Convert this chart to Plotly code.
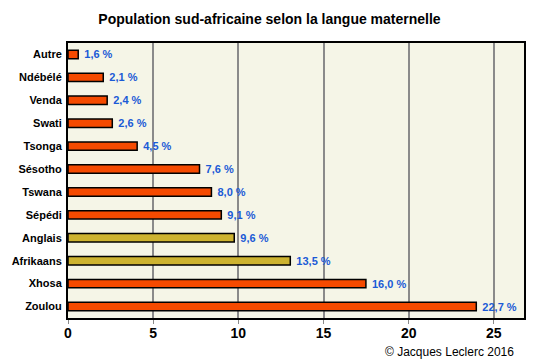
import plotly.graph_objects as go

languages = ["Autre", "Ndébélé", "Venda", "Swati", "Tsonga", "Sésotho", "Tswana",
             "Sépédi", "Anglais", "Afrikaans", "Xhosa", "Zoulou"]
bar_lengths = [0.6, 2.07, 2.3, 2.6, 4.06, 7.72, 8.42, 9.0, 9.76, 13.05, 17.49, 23.97]
value_labels = ["1,6 %", "2,1 %", "2,4 %", "2,6 %", "4,5 %", "7,6 %", "8,0 %",
                "9,1 %", "9,6 %", "13,5 %", "16,0 %", "22,7 %"]
groups = ["african"] * 8 + ["european"] * 2 + ["african"] * 2
x_ticks = [0, 5, 10, 15, 20, 25]

color_map = {"african": "#f54a00", "european": "#cdb330"}
colors = [color_map[g] for g in groups]

FONT = "Liberation Sans, Arial, sans-serif"

L, R, T, B = 68, 15, 43, 45
W, H = 539, 363
plot_h = H - T - B
plot_w = W - L - R

fig = go.Figure(go.Bar(
    x=bar_lengths, y=languages, orientation="h",
    marker=dict(color=colors, line=dict(color="black", width=1.5)),
    width=0.37,
    text=value_labels, texttemplate="&nbsp;%{text}",
    textposition="outside", constraintext="none",
    textfont=dict(family=FONT, size=11, color="#1a5ad6", weight="bold"),
    cliponaxis=False,
))

fig.update_layout(
    width=W, height=H,
    margin=dict(l=L, r=R, t=T, b=B, autoexpand=False),
    paper_bgcolor="white", plot_bgcolor="#f5f5e7",
    showlegend=False,
    title=dict(text="Population sud-africaine selon la langue maternelle",
               x=0.5, xanchor="center", xref="container", y=1 - 19 / H, yanchor="middle",
               font=dict(family=FONT, size=14, color="black", weight="bold")),
    xaxis=dict(range=[0, 26.77], tickvals=x_ticks, showgrid=True, automargin=False,
               gridcolor="#8a8a8a", gridwidth=1.5, zeroline=False,
               showline=True, linecolor="black", linewidth=2, mirror=True,
               ticks="outside", ticklen=4, tickcolor="#8a8a8a",
               ticklabelstandoff=-3,
               tickfont=dict(family=FONT, size=14, color="black", weight="bold")),
    yaxis=dict(autorange="reversed", showgrid=False, zeroline=False, automargin=False,
               showline=True, linecolor="black", linewidth=2, mirror=True,
               ticks="", ticklabelstandoff=2,
               tickfont=dict(family=FONT, size=11, color="black", weight="bold")),
    annotations=[dict(text="© Jacques Leclerc 2016",
                      x=(516 - L) / plot_w, xref="paper", xanchor="right",
                      y=-(352 - (H - B)) / plot_h, yref="paper", yanchor="middle",
                      showarrow=False,
                      font=dict(family=FONT, size=12, color="black"))],
)

fig.write_html("out.html", config={"displayModeBar": False},
               post_script="document.body.style.margin='0';document.body.style.overflow='hidden';")
